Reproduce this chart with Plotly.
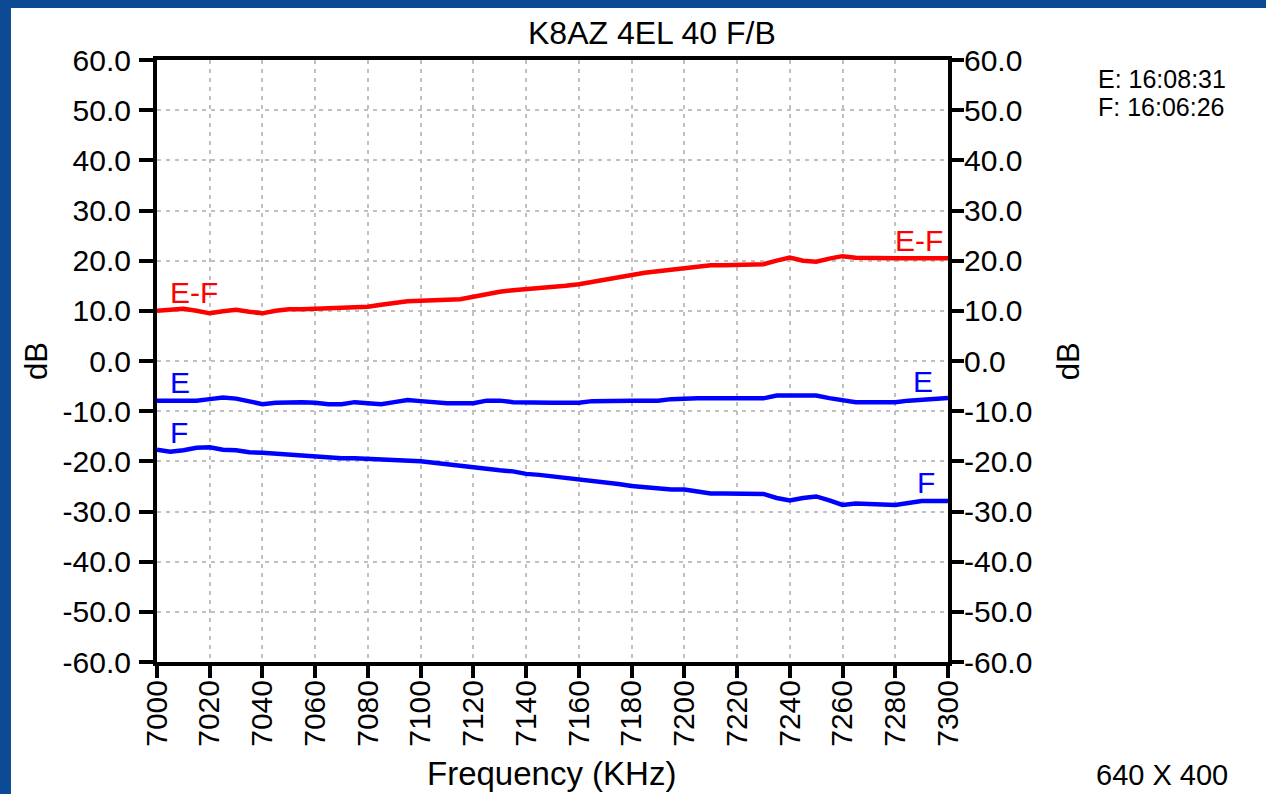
import plotly.graph_objects as go

# frequency grid (kHz), 5 kHz steps
freq = list(range(7000, 7301, 5))

# E-F (dB)
ef = [10.0, 10.3, 10.4, 10.0, 9.5, 9.9, 10.2, 9.8, 9.5, 10.0,
      10.3, 10.3, 10.4, 10.7, 10.7, 10.7, 10.8, 11.2, 11.6, 11.9,
      12.0, 12.1, 12.1, 12.3, 12.8, 13.4, 13.8, 14.1, 14.3, 14.5,
      14.6, 15.0, 15.3, 15.8, 16.3, 16.8, 17.3, 17.6, 17.9, 18.2,
      18.4, 18.8, 19.1, 19.1, 19.1, 19.1, 19.3, 20.0, 20.6, 20.0,
      19.8, 20.4, 20.9, 20.6, 20.5, 20.5, 20.5, 20.5, 20.5, 20.5,
      20.5]

# E (dB)
e_vals = [-7.9, -7.9, -7.9, -7.9, -7.6, -7.3, -7.5, -8.0, -8.6, -8.3,
          -8.2, -8.2, -8.3, -8.6, -8.6, -8.2, -8.4, -8.6, -8.2, -7.8,
          -8.0, -8.3, -8.4, -8.4, -8.4, -7.9, -7.9, -8.2, -8.3, -8.3,
          -8.3, -8.3, -8.3, -8.0, -7.9, -7.9, -7.9, -7.9, -7.9, -7.6,
          -7.45, -7.45, -7.45, -7.45, -7.45, -7.45, -7.45, -6.9, -6.85, -6.85,
          -6.9, -7.4, -7.9, -8.2, -8.2, -8.2, -8.2, -7.9, -7.8, -7.6,
          -7.4]

# F (dB)
f_vals = [-17.7, -18.1, -17.8, -17.3, -17.2, -17.7, -17.8, -18.2, -18.3, -18.5,
          -18.6, -18.9, -19.0, -19.4, -19.4, -19.4, -19.5, -19.8, -19.9, -20.0,
          -20.0, -20.3, -20.6, -20.9, -21.4, -21.7, -21.8, -22.0, -22.5, -22.7,
          -23.0, -23.2, -23.4, -23.7, -24.1, -24.5, -24.9, -25.1, -25.5, -25.6,
          -25.6, -26.0, -26.4, -26.4, -26.4, -26.4, -26.5, -27.3, -27.8, -27.3,
          -27.0, -27.8, -28.7, -28.4, -28.4, -28.6, -28.7, -28.2, -27.9, -27.9,
          -27.9]

x_ticks = list(range(7000, 7301, 20))
y_ticks = list(range(-60, 61, 10))
y_labels = [f"{v:.1f}" for v in y_ticks]

FONT = "Liberation Sans, Arial, sans-serif"
RED = "#ff0000"
BLUE = "#0000ff"

fig = go.Figure()

fig.add_trace(go.Scatter(x=freq, y=ef, mode="lines",
                         line=dict(color=RED, width=4.5), showlegend=False))
fig.add_trace(go.Scatter(x=freq, y=e_vals, mode="lines",
                         line=dict(color=BLUE, width=4.5), showlegend=False))
fig.add_trace(go.Scatter(x=freq, y=f_vals, mode="lines",
                         line=dict(color=BLUE, width=4.5), showlegend=False))
# invisible trace to bring up the right-hand axis
fig.add_trace(go.Scatter(x=[7000], y=[0], yaxis="y2", mode="markers",
                         marker=dict(opacity=0), showlegend=False,
                         hoverinfo="skip"))

# white panel behind everything
fig.add_shape(type="rect", xref="paper", yref="paper",
              x0=-0.1846, x1=1.45, y0=-0.25, y1=1.0864,
              fillcolor="white", line=dict(width=0), layer="below")

# curve labels
labels = [
    ("E-F", 7004, 13.6, "left", RED),
    ("E-F", 7299, 24.1, "right", RED),
    ("E", 7004, -4.2, "left", BLUE),
    ("E", 7295, -4.0, "right", BLUE),
    ("F", 7004, -14.2, "left", BLUE),
    ("F", 7296, -24.3, "right", BLUE),
]
for txt, x, y, anchor, col in labels:
    fig.add_annotation(x=x, y=y, text=txt, showarrow=False, xanchor=anchor,
                       yanchor="middle", font=dict(family=FONT, size=30, color=col))


def note(x, y, text, size=30, anchor="center", angle=0):
    fig.add_annotation(x=x, y=y, xref="paper", yref="paper", text=text,
                       xanchor=anchor, yanchor="middle", textangle=angle,
                       showarrow=False,
                       font=dict(family=FONT, size=size, color="black"))


# title, axis titles and side notes
note(0.626, 1.045, "K8AZ 4EL 40 F/B", size=32)
note(0.499, -0.1844, "Frequency (KHz)", size=33)
note(-0.153, 0.5, "dB", size=31, angle=-90)
note(1.152, 0.5, "dB", size=31, angle=-90)
note(1.187, 0.9685, "E: 16:08:31", size=25, anchor="left")
note(1.187, 0.9219, "F: 16:06:26", size=25, anchor="left")
note(1.185, -0.188, "640 X 400", size=29, anchor="left")

grid = dict(showgrid=True, gridcolor="#c0c0c0", gridwidth=2, griddash="4px,5px")

fig.update_layout(
    width=1266, height=794,
    margin=dict(l=157, r=318, t=60, b=132),
    paper_bgcolor="#0d4a95",
    plot_bgcolor="white",
    font=dict(family=FONT, size=30, color="black"),
    xaxis=dict(range=[7000, 7300], tickvals=x_ticks, tickangle=-90,
               ticks="outside", ticklen=12, tickwidth=4, tickcolor="black",
               ticklabelstandoff=-10,
               showline=True, linecolor="black", linewidth=4, mirror=True,
               zeroline=False, tickfont=dict(size=30), **grid),
    yaxis=dict(range=[-60, 60], tickvals=y_ticks, ticktext=y_labels,
               ticks="outside", ticklen=14, tickwidth=4, tickcolor="black",
               ticklabelstandoff=2,
               showline=True, linecolor="black", linewidth=4,
               zeroline=False, tickfont=dict(size=30), **grid),
    yaxis2=dict(range=[-60, 60], tickvals=y_ticks, ticktext=y_labels,
                overlaying="y", side="right", anchor="x",
                ticks="outside", ticklen=12, tickwidth=4, tickcolor="black",
                ticklabelstandoff=-6,
                showline=True, linecolor="black", linewidth=4,
                showgrid=False, zeroline=False, tickfont=dict(size=30)),
)

fig.write_html("out.html", config={"displayModeBar": False},
               post_script="document.body.style.margin='0';")
